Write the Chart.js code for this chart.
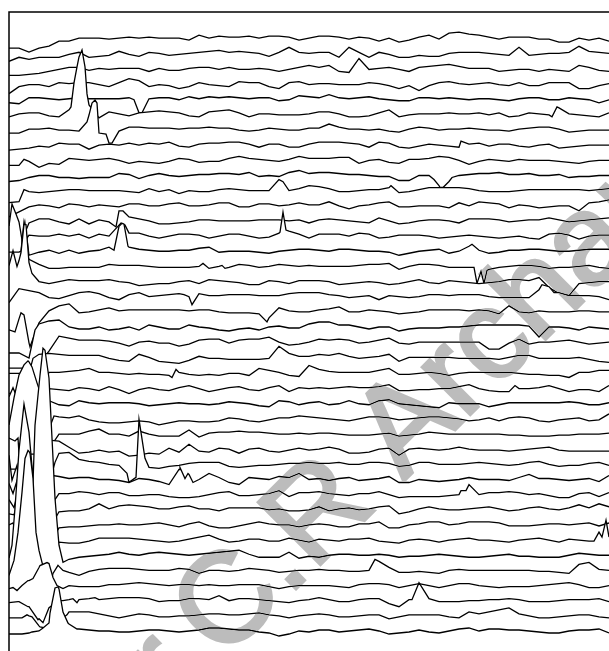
<!DOCTYPE html>
<html>
<head>
<meta charset="utf-8">
<style>
  html, body { margin: 0; padding: 0; background: #fff; overflow: hidden; }
  #wrap { width: 609px; height: 651px; }
</style>
<script src="https://cdn.jsdelivr.net/npm/chart.js@4"></script>
</head>
<body>
<div id="wrap"><canvas id="chart" width="609" height="651"></canvas></div>
<script>
// channel traces, top to bottom, read every 10 units from the picture
const s0 = [-8,-8,-12,-8,-6,-1,-1,2,2,2,1,2,3,2,3,2,2,2,0,5,2,4,3,3,4,2,4,4,3,0,2,4,4,3,1,3,2,-1,2,-2,0,3,5,1,7,8,6,5,3,1,3,3,3,1,1,-2,-2,2,0,2,-1];
const s1 = [-6,-2,-4,-2,-2,-2,1,3,-2,-1,0,4,1,-1,3,2,0,1,2,3,4,5,3,4,3,2,-1,3,8,3,2,3,3,-2,8,3,-2,3,1,-2,-2,0,-1,-1,2,3,3,3,2,1,0,8,0,1,2,2,3,9,4,3,2];
const s2 = [-5,-5,-4,-3,-1,1,3,3,0,2,1,2,2,2,-1,2,0,0,2,3,3,1,3,1,1,2,1,-1,1,3,5,3,5,-1,-2,12,1,2,3,1,-1,3,4,5,6,4,2,2,2,-1,0,1,1,-1,1,0,-1,5,3,0,-1];
const s3 = [-8,-1,1,1,-1,3,2,3,3,1,-1,3,7,5,-1,1,0,-3,-1,3,1,0,-1,4,3,3,-1,-3,3,4,1,2,2,1,1,1,3,2,0,-3,0,-5,0,3,4,2,1,2,3,1,0,3,0,0,3,3,3,-3,-3,0,2];
const s4 = [-2,-3,3,3,2,1,2,3,2,2,2,2,3,-12,2,3,3,1,4,2,4,3,4,3,2,3,3,0,1,5,4,3,6,3,2,3,4,2,1,0,0,3,3,2,3,2,1,2,2,1,0,2,3,3,1,1,3,2,1,-2,1];
const s5 = [-1,2,3,3,0,-1,6,59,11,-2,4,2,0,3,4,5,4,3,0,-1,4,5,6,3,-1,2,2,1,1,1,2,4,4,2,-1,-1,0,3,6,-1,1,2,2,2,3,2,2,3,1,3,-1,0,3,2,1,8,2,1,0,-1,3];
const s6 = [-2,-2,2,2,3,1,1,0,16,-1,-12,0,4,4,3,3,3,2,3,3,4,3,3,1,0,1,3,2,1,1,3,3,7,4,2,2,1,2,0,-1,2,4,3,1,2,2,3,2,1,1,0,2,3,4,4,2,-1,0,1,1,1];
const s7 = [-4,-3,-2,0,-1,3,2,2,-3,1,2,1,3,1,3,2,4,0,-1,2,3,3,4,4,2,-1,2,2,-1,-1,2,4,4,4,3,2,-1,4,3,-1,-2,0,2,1,0,-1,2,3,0,2,2,0,-1,1,2,-2,-1,0,1,1,1];
const s8 = [-4,-4,0,-6,-2,-3,3,2,1,2,3,1,-2,0,-1,-2,0,3,2,-1,0,0,3,5,3,2,1,0,2,5,3,3,3,4,4,-2,1,2,-1,-2,2,2,3,5,4,1,-3,0,2,1,0,2,1,1,1,0,-1,-2,0,1,1];
const s9 = [-5,-4,-1,1,1,-1,-1,-2,-1,-1,-1,3,2,-2,1,3,1,0,1,2,2,3,3,2,4,0,1,0,4,6,3,4,4,3,2,2,1,0,0,-4,-4,1,1,-9,-5,1,2,3,3,4,2,2,3,1,1,2,-1,0,0,1,1];
const s10 = [-11,-10,0,-1,0,1,2,2,1,1,1,1,0,-1,3,0,2,-2,1,0,0,2,3,2,1,1,1,12,1,3,6,5,3,0,0,1,2,2,4,-1,0,2,4,4,4,4,3,1,0,0,0,1,2,2,2,2,2,2,1,2,3];
const s11 = [-10,-5,0,2,1,-1,3,2,0,2,1,0,3,3,1,1,3,4,1,1,2,4,4,0,0,3,3,1,2,4,2,2,5,1,-2,1,2,4,5,0,0,1,1,1,-1,4,1,5,4,3,-1,2,1,-1,0,1,1,-4,4,5,7];
const s12 = [-4,0,-1,3,3,0,-2,3,-2,2,0,11,5,3,1,-2,-2,-1,0,2,2,1,1,1,1,2,2,2,1,2,-1,2,3,2,1,0,-1,4,1,-2,-1,1,2,2,1,-1,3,3,3,2,0,1,2,2,4,2,0,1,2,3,4];
const s13 = [-15,-15,2,1,1,3,1,3,-1,3,1,12,4,4,1,-1,1,3,3,2,-1,1,3,3,1,-1,0,4,6,3,-1,3,3,3,1,4,3,-1,0,2,2,2,1,-1,0,1,2,1,0,-1,0,1,-1,-2,3,4,2,-2,1,2,2];
const s14 = [-15,-15,-3,0,2,-1,2,-1,1,2,5,26,5,3,2,1,1,2,2,4,5,0,1,1,1,0,-1,1,2,3,3,2,1,3,3,2,1,1,0,-3,-1,1,2,3,-1,1,6,2,-1,0,2,2,3,3,2,1,1,2,3,3,3];
const s15 = [-20,-20,8,3,-1,-1,0,0,0,0,3,2,2,2,1,0,0,0,0,1,-1,1,0,3,2,0,1,3,2,1,2,1,1,1,1,2,3,3,4,-2,1,3,3,2,0,0,0,-10,-2,0,1,2,2,1,-1,0,0,1,2,0,-1];
const s16 = [17,22,20,1,-1,1,3,2,2,2,3,1,0,-3,-2,-1,-1,1,2,-1,3,2,1,0,-2,-2,2,1,-1,2,2,2,1,-2,-1,0,1,0,-2,-1,1,3,0,-1,2,1,0,-1,0,1,3,3,2,5,-5,-11,-13,-1,0,1,1];
const s17 = [-5,9,7,5,0,-1,2,5,6,4,0,-2,3,5,1,2,3,4,1,4,2,2,3,3,3,2,2,2,4,5,5,5,3,2,0,1,2,-2,2,1,0,1,3,3,2,3,3,3,1,0,0,0,0,8,11,5,2,2,2,1,-2];
const s18 = [-17,-6,-30,-10,2,7,9,0,1,3,5,2,3,3,3,3,3,3,2,3,3,1,0,0,0,-1,-5,5,2,1,1,3,4,6,1,1,3,2,1,-1,0,1,3,3,3,3,2,3,2,-1,7,1,0,2,1,1,1,2,2,1,1];
const s19 = [-25,-25,-30,4,7,8,1,-1,-1,1,-2,-1,1,-2,3,1,-1,-1,3,1,0,-2,-3,-1,0,-2,1,2,0,0,4,6,6,3,3,1,-1,1,1,-3,-1,0,0,0,1,1,2,3,3,3,3,3,2,-9,1,1,0,-2,1,0,-1];
const s20 = [-25,-25,-25,-20,-8,7,5,3,3,3,2,0,-3,1,2,0,0,-3,-1,3,4,4,0,3,4,4,6,1,-2,-1,1,4,3,4,3,0,1,3,5,0,-1,1,1,1,1,1,1,1,-6,-6,0,4,-1,1,1,2,3,1,-1,0,1];
const s21 = [-15,-15,-15,4,5,4,3,3,3,3,0,-2,-3,4,1,-3,-4,-5,-2,2,0,0,-1,-1,-1,-1,0,12,5,2,2,4,3,5,2,0,1,2,4,-3,1,1,1,1,1,0,0,0,0,-1,1,3,3,0,0,0,0,1,-1,-3,-4];
const s22 = [-20,-20,-20,-20,1,1,2,3,5,1,1,0,-1,0,-1,-1,-2,1,-1,-2,-1,-2,0,0,-2,5,3,1,-2,-3,8,4,2,1,1,1,1,3,5,-1,-1,0,1,0,-2,0,1,1,1,1,1,0,-1,-1,-2,-2,-4,1,1,3,3];
const s23 = [-20,-20,-20,-20,0,-1,-2,1,0,-2,2,-1,-5,-1,1,-1,-2,1,3,0,-3,-1,1,2,-1,-2,1,3,-3,1,0,1,0,1,2,1,1,2,4,-2,-2,-1,-1,0,0,2,4,0,-2,-3,-3,0,0,1,3,0,-3,-1,-1,-3,3];
const s24 = [7,4,-15,-15,3,-1,-2,3,1,0,1,1,1,0,-2,-1,0,1,0,0,-1,0,2,1,0,-2,-3,3,2,-1,1,2,-1,0,3,0,-1,3,4,0,-1,-2,-3,-4,1,0,0,0,-3,-1,1,1,1,1,1,1,2,1,-1,-1,1];
const s25 = [-6,44,57,30,-10,2,1,3,-1,-3,-4,-4,-3,-2,-3,-6,-4,-2,-2,-3,-3,-2,1,0,-2,-3,-1,1,1,3,2,1,0,-1,-2,0,2,2,1,-1,0,1,2,2,1,0,-2,-1,1,-2,1,2,1,-2,-3,-1,0,1,-2,-1,5];
const s26 = [-4,-20,-20,-20,-15,0,0,0,3,5,0,0,-2,3,0,-2,-2,-2,4,-3,1,2,2,3,2,2,1,0,0,1,0,1,1,0,-1,-1,-1,0,1,-2,-1,0,2,1,0,0,0,0,0,0,-1,-1,-2,-2,-2,-1,-1,0,0,0,1];
const s27 = [-20,-20,-20,-20,9,8,2,-4,-3,-1,-3,-2,-7,-6,-4,-5,1,-3,5,-2,-3,1,0,-4,0,1,-2,-3,-1,1,-1,0,2,0,-4,-4,-3,0,1,-6,0,1,0,-1,0,2,0,-1,-1,-1,-2,-1,0,1,2,-1,-2,-2,-2,-2,-2];
const s28 = [9,-20,-20,-20,-20,11,12,5,3,2,0,-1,-18,45,-3,-4,-2,-1,1,2,2,2,-2,-3,-2,-1,-1,0,1,1,2,1,1,2,0,0,2,2,1,-2,-1,2,2,0,0,0,1,2,1,0,-1,0,2,3,0,-2,-1,-1,1,2,-1];
const s29 = [-4,-20,-20,-20,-20,3,1,2,2,0,0,-1,-3,1,0,-2,-5,10,5,0,6,2,-3,-5,2,1,0,3,2,6,0,1,-1,1,2,-1,0,1,3,-3,-3,0,-1,-2,-1,0,2,0,0,0,-1,2,5,1,1,0,-1,0,1,-2,4];
const s30 = [-5,-20,-20,-20,-20,1,1,3,2,0,2,2,-1,-1,0,0,-2,-3,-3,-2,0,2,3,-1,-1,0,1,4,-2,2,2,3,1,0,-1,1,1,3,0,-3,-2,-2,-2,-2,-1,0,10,0,2,2,3,2,0,1,-1,-3,-3,1,2,-2,2];
const s31 = [-4,-20,-20,-20,-20,-2,-1,-1,1,6,1,4,5,4,3,1,1,3,4,1,1,-1,2,2,2,2,0,1,-1,-1,0,3,-1,1,2,0,1,3,4,-4,-2,1,3,1,0,0,1,2,3,1,-1,0,2,3,1,0,2,5,2,6,3];
const s32 = [0,-20,-20,-20,-20,-3,-2,-2,-1,0,0,1,0,0,1,2,0,-2,1,3,-1,-3,-3,-1,1,3,1,0,0,-2,0,1,0,-2,-2,1,1,3,-3,-3,0,1,3,3,0,1,3,3,3,2,-1,-1,-1,0,1,1,0,1,2,-1,2];
const s33 = [-18,90,108,0,-20,-2,-3,-3,-1,2,2,2,2,1,0,-1,-2,-1,1,3,5,1,-2,-1,1,1,-1,-1,2,0,-2,1,0,-1,1,1,2,-1,-2,-3,0,1,0,-2,0,1,2,0,0,-1,-2,0,1,2,0,-2,1,0,-1,8,3];
const s34 = [-25,-25,13,170,177,10,-4,-2,-1,0,1,3,1,0,2,3,2,1,0,1,2,3,4,5,1,-2,-2,-2,3,-3,-1,-2,0,1,1,0,0,1,0,-2,-1,-1,0,1,0,-1,-2,-2,-1,0,1,-1,-1,-2,-2,-2,0,2,1,0,0];
const s35 = [-5,48,119,20,-20,4,-2,-5,-1,1,2,2,2,1,0,0,0,2,1,-3,0,0,-1,0,2,1,0,-2,-1,0,0,1,0,0,-1,-1,0,9,3,-2,-2,-1,-2,-3,0,1,0,0,0,0,0,0,0,-1,-1,-2,-3,6,8,1,0];
const s36 = [-3,-3,5,18,22,-1,0,-1,-1,-1,1,1,2,3,2,1,0,1,1,0,1,0,0,1,1,1,-1,-3,-1,0,0,0,0,-1,-2,1,2,2,1,-2,0,2,0,-2,0,2,2,0,-1,-2,-1,-1,-1,0,1,2,3,1,-2,-2,0];
const s37 = [-2,-1,-6,-18,-7,0,1,1,2,1,2,3,3,3,2,-1,0,0,2,2,1,5,0,2,2,1,0,-1,-2,0,1,3,1,-1,-1,1,2,2,-3,-6,1,18,2,-1,-1,-1,0,0,1,1,2,1,-1,-1,-1,0,1,1,1,2,-1];
const s38 = [-2,-2,0,-10,-12,-5,4,4,4,2,0,-2,0,2,1,-1,-1,0,0,1,2,2,1,1,2,3,1,0,-2,0,1,2,1,-1,-1,0,1,1,-3,-1,1,1,1,1,-1,-2,4,2,4,6,8,2,0,-2,-2,-1,0,1,1,-1,-2];
const s39 = [-3,-3,-2,0,8,42,7,2,1,0,0,-1,-1,0,1,1,0,-1,0,1,3,3,2,1,1,-1,-2,-5,-3,0,-1,1,1,-1,0,1,2,0,-3,-2,-1,1,-1,-2,0,2,3,0,2,2,1,1,0,-1,-2,-2,0,1,1,2,-2];

// narrow features that fall between the 10 unit readings: [position, value]
const b4 = [[125,1],[133,-12],[137,-4]];
const b5 = [[62,9],[65,33],[68,49],[73,66],[76,49],[78,22],[543,-1],[548,9]];
const b6 = [[78,9],[83,28],[86,31],[88,28],[90,-2],[97,-3],[103,-12]];
const b7 = [[452,5]];
const b8 = [[15,2]];
const b9 = [[425,-3],[431,-11],[434,-11],[443,-1]];
const b10 = [[15,2],[274,10],[382,6]];
const b12 = [[3,18],[7,8],[13,-18],[107,-5],[114,11]];
const b13 = [[12,-14],[15,15],[18,-1],[112,14],[116,12],[271,5],[274,25],[277,7]];
const b14 = [[12,-3],[16,29],[105,2],[113,29],[115,28],[119,6],[463,8]];
const b15 = [[16,20],[194,4],[213,2],[216,-1],[465,0],[468,-16],[472,-4],[475,-16],[478,-3]];
const b16 = [[4,32],[8,16],[12,30],[15,58],[17,58],[23,9]];
const b17 = [[175,3],[183,-7],[533,13],[545,5]];
const b18 = [[6,-19],[12,0],[15,-2],[21,-34],[258,-9]];
const b19 = [[26,-2]];
const b21 = [[24,0]];
const b22 = [[163,-4],[167,4]];
const b23 = [[506,3]];
const b24 = [[4,16],[9,4],[13,-15]];
const b25 = [[5,21],[15,54],[19,58],[23,52],[28,36],[33,19],[37,-5],[45,3]];
const b26 = [[6,-7],[9,-4],[13,-8]];
const b28 = [[3,-16],[8,-1],[46,2],[118,-9],[127,-13],[136,6]];
const b29 = [[4,-14],[9,2],[44,4],[171,12],[176,1],[179,6],[184,-3]];
const b30 = [[5,-13],[9,3],[46,-5],[452,4],[457,4]];
const b31 = [[5,-5],[8,5]];
const b32 = [[4,2],[8,-10]];
const b33 = [[3,-5],[6,32],[15,136],[24,62],[28,8],[33,-20],[585,-1],[593,3],[597,20]];
const b34 = [[24,73],[26,130],[31,180],[34,207],[36,205],[43,117],[46,57],[54,-7]];
const b35 = [[5,10],[9,38],[13,78],[16,112],[19,120],[21,117],[24,92],[27,38],[33,8],[44,-3],[49,5],[54,0],[366,11]];
const b36 = [[4,-2],[8,-5],[13,0],[19,5],[24,7],[31,20],[38,23],[44,8],[48,0],[54,-3]];
const b37 = [[9,-1],[19,-6],[29,-19],[34,-22],[54,0],[64,2],[68,-2],[86,3],[403,1]];
const b38 = [[13,-2],[18,1],[23,-1],[31,-11],[36,-12],[46,-10],[58,1]];
const b39 = [[13,-3],[23,-1],[34,3],[41,18],[46,43],[49,44],[54,19],[59,8],[68,2]];

const traces = [s0,s1,s2,s3,s4,s5,s6,s7,s8,s9,s10,s11,s12,s13,s14,s15,s16,s17,s18,s19,s20,s21,s22,s23,s24,s25,s26,s27,s28,s29,s30,s31,s32,s33,s34,s35,s36,s37,s38,s39];
const bumps = [[],[],[],[],b4,b5,b6,b7,b8,b9,b10,[],b12,b13,b14,b15,b16,b17,b18,b19,[],b21,b22,b23,b24,b25,b26,[],b28,b29,b30,b31,b32,b33,b34,b35,b36,b37,b38,b39];

const stackStep = 15.15; // vertical gap between neighbouring traces
const gridStep = 10;

function tracePoints(i) {
    const offset = (traces.length - 1 - i) * stackStep;
    const map = new Map();
    traces[i].forEach((v, k) => map.set(k * gridStep, v));
    bumps[i].forEach(p => map.set(p[0], p[1]));
    return [...map.entries()]
        .sort((a, b) => a[0] - b[0])
        .map(p => ({ x: p[0], y: p[1] + offset }));
}

// bottom trace first: chart.js paints dataset 0 last, so lower traces hide upper ones
const datasets = [];
for (let i = traces.length - 1; i >= 0; i--) {
    datasets.push({
        data: tracePoints(i),
        borderColor: '#000',
        borderWidth: 1.3,
        backgroundColor: '#fff',
        fill: 'start',
        pointRadius: 0,
        tension: 0
    });
}

const framePlugin = {
    id: 'frame',
    afterDraw(chart) {
        const { ctx, chartArea: a } = chart;
        ctx.save();
        // watermark goes over the traces without washing them out
        ctx.globalCompositeOperation = 'darken';
        ctx.fillStyle = '#bcbcbc';
        ctx.strokeStyle = '#bcbcbc';
        ctx.lineWidth = 3;
        ctx.font = '128px "Liberation Sans"';
        ctx.textBaseline = 'alphabetic';
        ctx.translate(313, 572); // left end of the R on the baseline
        ctx.rotate(-Math.PI / 4);
        const lead = ctx.measureText('Dr.C.').width;
        ctx.strokeText('Dr.C.R Archana', -lead, 0);
        ctx.fillText('Dr.C.R Archana', -lead, 0);
        ctx.restore();

        ctx.save();
        ctx.strokeStyle = '#000';
        ctx.lineWidth = 1.5;
        ctx.beginPath();
        ctx.moveTo(a.left, a.bottom);
        ctx.lineTo(a.left, a.top);
        ctx.lineTo(a.right, a.top);
        ctx.stroke();
        ctx.restore();
    }
};

new Chart(document.getElementById('chart').getContext('2d'), {
    type: 'line',
    data: { datasets: datasets },
    options: {
        responsive: false,
        animation: false,
        parsing: false,
        normalized: true,
        layout: { padding: { left: 9, top: 12, right: 0, bottom: 0 } },
        plugins: {
            legend: { display: false },
            tooltip: { enabled: false },
            filler: { drawTime: 'beforeDatasetDraw', propagate: false }
        },
        scales: {
            x: { type: 'linear', display: false, min: 0, max: 600 },
            y: { type: 'linear', display: false, min: -20, max: 619 }
        }
    },
    plugins: [framePlugin]
});
</script>
</body>
</html>
